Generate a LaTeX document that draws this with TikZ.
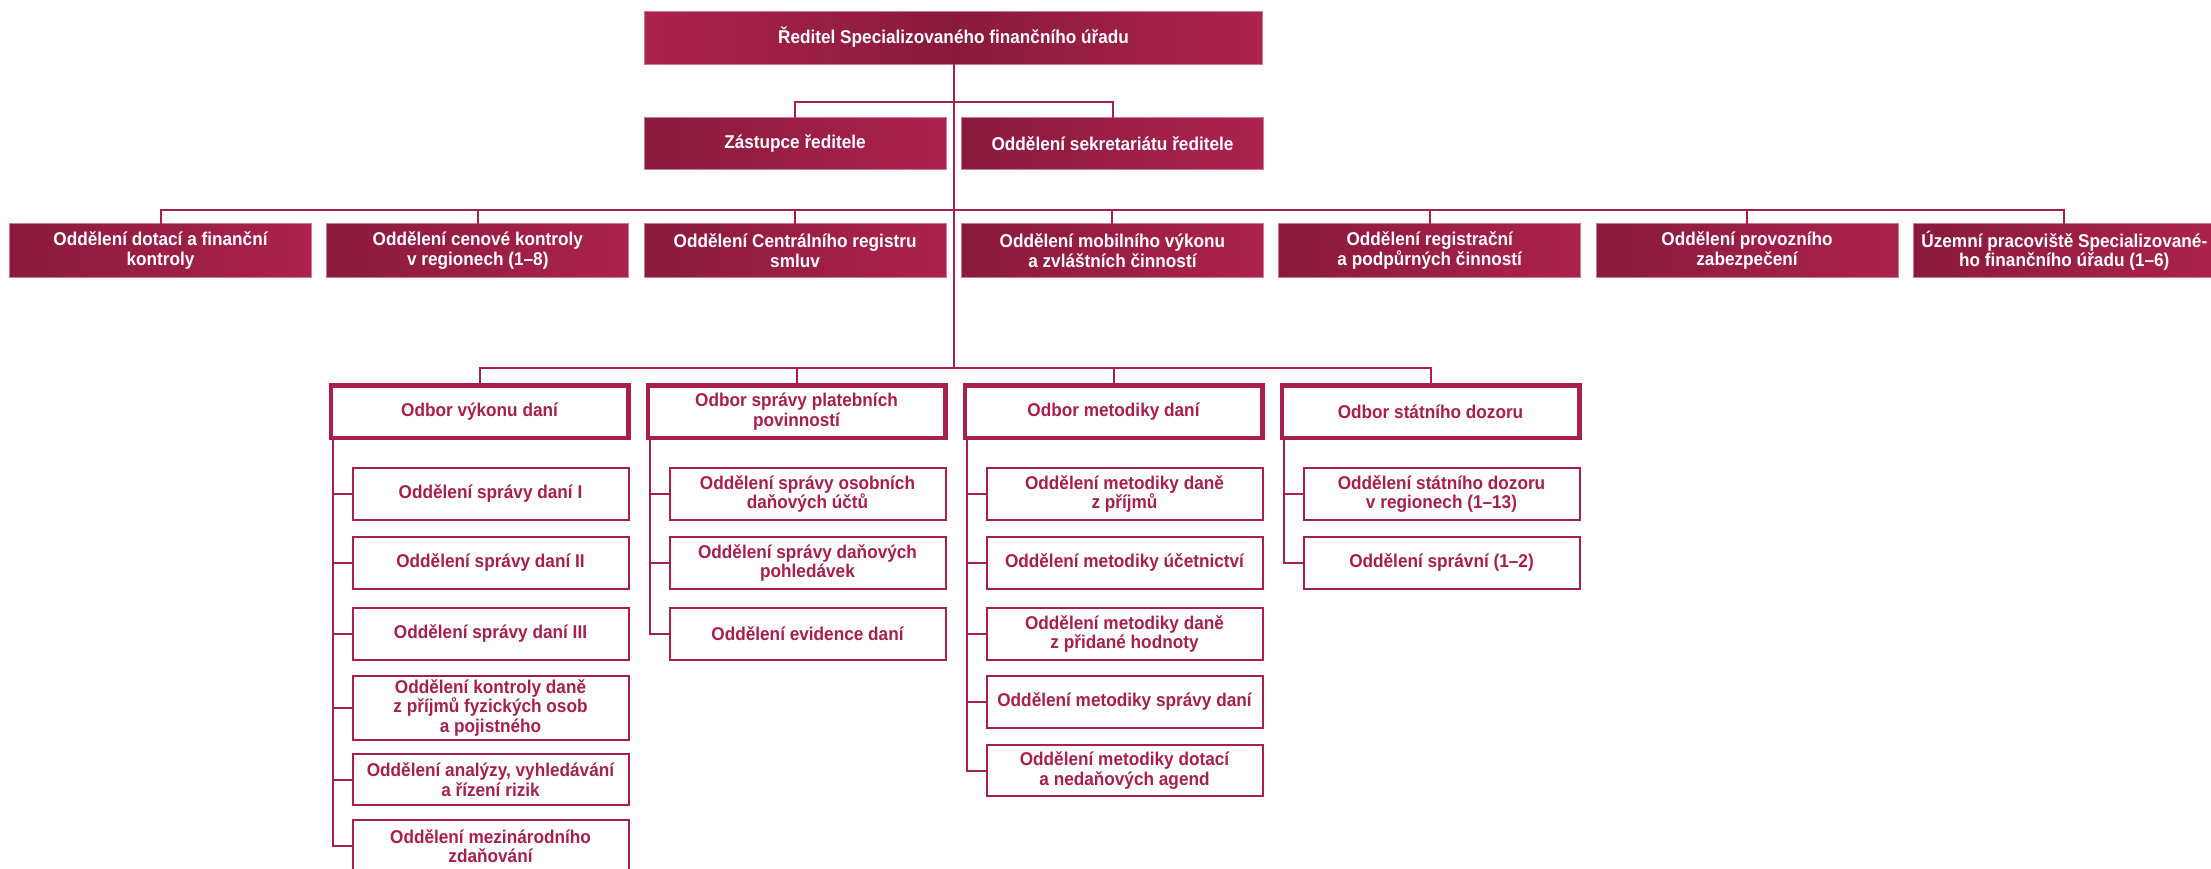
\documentclass[tikz,border=0pt]{standalone}
\usepackage{fontspec}
\setmainfont{Liberation Sans}[FakeStretch=0.93]
\usetikzlibrary{calc}
\definecolor{crim}{RGB}{168,32,74}
\definecolor{crimdark}{RGB}{138,26,60}
\definecolor{crimlight}{RGB}{172,35,77}
\definecolor{crimedge}{RGB}{205,120,150}
\begin{document}
\begin{tikzpicture}[x=1pt,y=-1pt,
  every node/.style={font=\fontsize{18.5}{19.5}\selectfont\bfseries, align=center, inner sep=0pt, outer sep=0pt},
  topbox/.style={draw=crimedge, line width=1pt, left color=crimlight, right color=crimlight, middle color=crimdark, text=white, minimum width=618pt, minimum height=53pt},
  filled/.style={draw=crimedge, line width=1pt, left color=crimdark, right color=crimlight, text=white, minimum width=302pt, minimum height=54pt},
  odborbox/.style={draw=crim, line width=4.5pt, fill=white, text=crim, minimum width=297.5pt, minimum height=52.5pt},
  subbox/.style={draw=crim, line width=2pt, fill=white, text=crim, minimum width=276pt, minimum height=52pt},
  conn/.style={draw=crim, line width=2pt}
]
\fill[white] (0,0) rectangle (2211,868);
\useasboundingbox (0,0) rectangle (2211,868);

% top
\node[topbox] (top) at (953.5,37.5) {Ředitel Specializovaného finančního úřadu};
% row 2
\node[filled, minimum height=52pt] (za) at (795,143.5) {Zástupce ředitele};
\node[filled, minimum height=52pt] (sek) at (1112.5,143.5) {Oddělení sekretariátu ředitele};
% row 3
\node[filled] (t1) at (160.5,250.5) {Oddělení dotací a finanční\\kontroly};
\node[filled] (t2) at (477.8,250.5) {Oddělení cenové kontroly\\v regionech (1–8)};
\node[filled] (t3) at (795.1,250.5) {Oddělení Centrálního registru\\smluv};
\node[filled] (t4) at (1112.4,250.5) {Oddělení mobilního výkonu\\a zvláštních činností};
\node[filled] (t5) at (1429.7,250.5) {Oddělení registrační\\a podpůrných činností};
\node[filled] (t6) at (1747,250.5) {Oddělení provozního\\zabezpečení};
\node[filled] (t7) at (2064.3,250.5) {Územní pracoviště Specializované-\\ho finančního úřadu (1–6)};
% odbory
\node[odborbox] (o1) at (479.5,411.5) {Odbor výkonu daní};
\node[odborbox] (o2) at (796.5,411.5) {Odbor správy platebních\\povinností};
\node[odborbox] (o3) at (1113.5,411.5) {Odbor metodiky daní};
\node[odborbox] (o4) at (1430.5,411.5) {Odbor státního dozoru};
% sub boxes: výkonu
\node[subbox] (s11) at (490.5,494) {Oddělení správy daní I};
\node[subbox] (s12) at (490.5,563) {Oddělení správy daní II};
\node[subbox] (s13) at (490.5,634) {Oddělení správy daní III};
\node[subbox, minimum height=64pt] (s14) at (490.5,708) {Oddělení kontroly daně\\z příjmů fyzických osob\\a pojistného};
\node[subbox, minimum height=51pt] (s15) at (490.5,779.5) {Oddělení analýzy, vyhledávání\\a řízení rizik};
\node[subbox] (s16) at (490.5,846) {Oddělení mezinárodního\\zdaňování};
% správy
\node[subbox] (s21) at (807.5,494) {Oddělení správy osobních\\daňových účtů};
\node[subbox] (s22) at (807.5,563) {Oddělení správy daňových\\pohledávek};
\node[subbox] (s23) at (807.5,634) {Oddělení evidence daní};
% metodiky
\node[subbox] (s31) at (1124.5,494) {Oddělení metodiky daně\\z příjmů};
\node[subbox] (s32) at (1124.5,563) {Oddělení metodiky účetnictví};
\node[subbox] (s33) at (1124.5,634) {Oddělení metodiky daně\\z přidané hodnoty};
\node[subbox] (s34) at (1124.5,702) {Oddělení metodiky správy daní};
\node[subbox, minimum height=51pt] (s35) at (1124.5,770.5) {Oddělení metodiky dotací\\a nedaňových agend};
% dozoru
\node[subbox] (s41) at (1441.5,494) {Oddělení státního dozoru\\v regionech (1–13)};
\node[subbox] (s42) at (1441.5,563) {Oddělení správní (1–2)};

% connectors
\coordinate (bus4) at ($(o1.north)+(0,-17)$);
\draw[conn] (top.south) -- (top.south |- bus4);
\draw[conn] (za.north) -- ++(0,-16) -| (sek.north);
\draw[conn] (t1.north) -- ++(0,-14) -| (t7.north);
\foreach \n in {t2,t3,t4,t5,t6} \draw[conn] (\n.north) -- ++(0,-14);
\draw[conn] (o1.north) -- ++(0,-17) -| (o4.north);
\foreach \n in {o2,o3} \draw[conn] (\n.north) -- ++(0,-17);

\coordinate (v1) at ([xshift=2.25pt]o1.south west);
\coordinate (v2) at ([xshift=2.25pt]o2.south west);
\coordinate (v3) at ([xshift=2.25pt]o3.south west);
\coordinate (v4) at ([xshift=2.25pt]o4.south west);
\draw[conn] (v1) |- (s16.west);
\foreach \n in {s11,s12,s13,s14,s15} \draw[conn] (\n.west) -- (\n.west -| v1);
\draw[conn] (v2) |- (s23.west);
\foreach \n in {s21,s22} \draw[conn] (\n.west) -- (\n.west -| v2);
\draw[conn] (v3) |- (s35.west);
\foreach \n in {s31,s32,s33,s34} \draw[conn] (\n.west) -- (\n.west -| v3);
\draw[conn] (v4) |- (s42.west);
\draw[conn] (s41.west) -- (s41.west -| v4);
\end{tikzpicture}
\end{document}
